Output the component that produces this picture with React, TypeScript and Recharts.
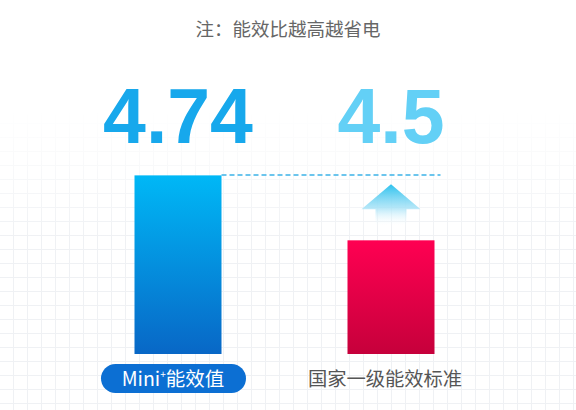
import React from 'react';
import { BarChart, Bar, XAxis, YAxis, LabelList, ReferenceLine, Cell } from 'recharts';

const categories = ['Mini+能效值', '国家一级能效标准'];
const values = [4.74, 4.5];
const valueLabels = ['4.74', '4.5'];
const note = '注：能效比越高越省电';

const data = categories.map((name, i) => ({ name, value: values[i], label: valueLabels[i] }));

const BAR_SIZE = 87;
const CJK = '"Noto Sans CJK SC", "Noto Sans", sans-serif';

// bar with the "raise" arrow above the lower bar
const BarShape = (props: any) => {
    const { x, y, width, height, fill, payload } = props;
    const lower = payload && payload.value < Math.max(...values);
    const cx = x + width / 2;
    return (
        <g>
            <rect x={x} y={y} width={width} height={height} fill={fill} />
            {lower && (
                <path
                    d={`M${cx} ${y - 56} L${cx + 29.5} ${y - 31} L${cx + 15.5} ${y - 31} L${cx + 15.5} ${y - 14} L${cx - 15.5} ${y - 14} L${cx - 15.5} ${y - 31} L${cx - 29.5} ${y - 31} Z`}
                    fill="url(#gArrow)"
                />
            )}
        </g>
    );
};

const ValueLabel = (props: any) => {
    const { x, width, index, value } = props;
    return (
        <text
            x={x + width / 2}
            y={143}
            textAnchor="middle"
            fontFamily='"Liberation Sans", Arial, sans-serif'
            fontWeight="bold"
            fontSize={77}
            fill={index === 0 ? '#17a8ec' : '#63d0f6'}
        >
            {value}
        </text>
    );
};

const CategoryTick = (props: any) => {
    const { x, y, payload, index } = props;
    const name: string = payload.value;
    if (index === 0) {
        const [head, tail] = name.split('+');
        return (
            <g>
                <rect x={x - 77} y={y + 10} width={145} height={29} rx={14.5} fill="#0c6fd3" />
                <text x={x - 5} y={y + 32} textAnchor="middle" fontFamily={CJK} fontSize={19.5} fill="#fff">
                    {head}
                    <tspan fontSize={10} dy={-8}>+</tspan>
                    <tspan dy={8}>{tail}</tspan>
                </text>
            </g>
        );
    }
    return (
        <text x={x - 6} y={y + 32} textAnchor="middle" fontFamily={CJK} fontSize={19.3} fill="#555">
            {name}
        </text>
    );
};

const DashShape = (props: any) => {
    const { x1, x2, y1 } = props;
    const band = (x2 - x1) / categories.length;
    const start = x1 + band / 2 + BAR_SIZE / 2;
    const end = x1 + band * 1.5 + BAR_SIZE / 2 + 6;
    const yy = Math.round(y1);
    return <line x1={start} x2={end} y1={yy} y2={yy} stroke="#3cb2e8" strokeWidth={1.6} strokeDasharray="5 3" />;
};

export default function App() {
    return (
        <div style={{ position: 'absolute', left: 0, top: 0, width: 576, height: 410, background: '#fff', overflow: 'hidden' }}>
            <div
                style={{
                    position: 'absolute',
                    inset: 0,
                    backgroundImage:
                        'linear-gradient(to bottom, #fff 0px, #fff 110px, rgba(255,255,255,0) 240px), linear-gradient(#eff1f4 1px, transparent 1px), linear-gradient(90deg, #eff1f4 1px, transparent 1px)',
                    backgroundSize: '100% 100%, 14px 14px, 14px 14px',
                    backgroundPosition: '0 0, 0 11px, 13px 0',
                }}
            />
            <div
                style={{
                    position: 'absolute',
                    top: 15,
                    left: 0,
                    width: 576,
                    textAlign: 'center',
                    fontFamily: CJK,
                    fontSize: 18.5,
                    color: '#666',
                }}
            >
                {note}
            </div>
            <div style={{ position: 'absolute', left: 0, top: 0 }}>
                <BarChart
                    width={576}
                    height={410}
                    data={data}
                    margin={{ top: 105, right: 78.5, left: 71.5, bottom: 26 }}
                    barSize={BAR_SIZE}
                >
                    <defs>
                        <linearGradient id="gBlue" x1="0" y1="0" x2="0" y2="1">
                            <stop offset="0%" stopColor="#00b8f6" />
                            <stop offset="100%" stopColor="#0867c6" />
                        </linearGradient>
                        <linearGradient id="gRed" x1="0" y1="0" x2="0" y2="1">
                            <stop offset="0%" stopColor="#ff0052" />
                            <stop offset="100%" stopColor="#c6003b" />
                        </linearGradient>
                        <linearGradient id="gArrow" x1="0" y1="0" x2="0" y2="1">
                            <stop offset="0%" stopColor="#2ec2ee" />
                            <stop offset="55%" stopColor="#9fe0f6" stopOpacity={0.8} />
                            <stop offset="100%" stopColor="#ffffff" stopOpacity={0} />
                        </linearGradient>
                    </defs>
                    <XAxis
                        dataKey="name"
                        axisLine={false}
                        tickLine={false}
                        tickSize={0}
                        tickMargin={0}
                        height={30}
                        interval={0}
                        tick={<CategoryTick />}
                    />
                    <YAxis hide type="number" domain={[4.08, 5]} allowDataOverflow />
                    <ReferenceLine y={values[0]} shape={<DashShape />} ifOverflow="visible" />
                    <Bar dataKey="value" shape={<BarShape />} isAnimationActive={false}>
                        {data.map((d, i) => (
                            <Cell key={d.name} fill={i === 0 ? 'url(#gBlue)' : 'url(#gRed)'} />
                        ))}
                        <LabelList dataKey="label" content={<ValueLabel />} />
                    </Bar>
                </BarChart>
            </div>
        </div>
    );
}
